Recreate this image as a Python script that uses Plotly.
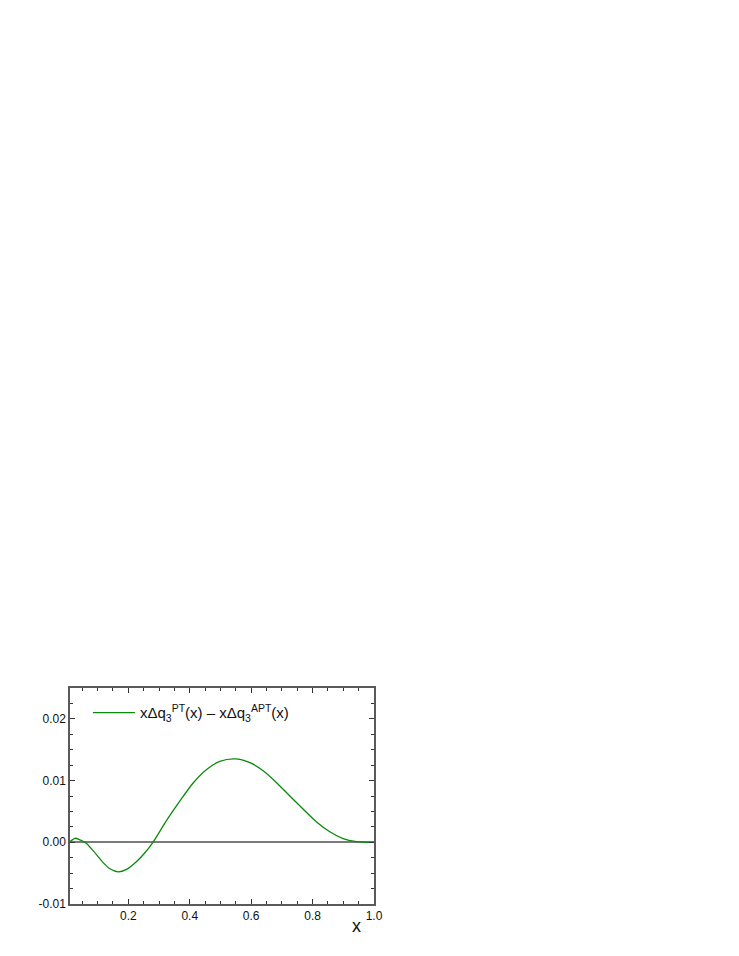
import plotly.graph_objects as go

# curve: x * (Δq3 PT - Δq3 APT)
x_vals = [0.01, 0.026, 0.0425, 0.062, 0.086, 0.118, 0.140, 0.167, 0.194, 0.227,
          0.254, 0.280, 0.324, 0.368, 0.411, 0.455, 0.498, 0.547, 0.596, 0.639,
          0.682, 0.726, 0.769, 0.813, 0.856, 0.899, 0.943, 0.98, 1.0]
y_vals = [0.0001, 0.00065, 0.0004, -0.0001, -0.0014, -0.0033, -0.0043, -0.0048, -0.0044, -0.0031,
          -0.0017, 0.0, 0.0035, 0.0067, 0.0096, 0.0118, 0.0131, 0.0135, 0.0129, 0.0116,
          0.0097, 0.0075, 0.0054, 0.0033, 0.0017, 0.0006, 0.0001, 0.0, 0.0]

y_tickvals = [-0.01, 0.0, 0.01, 0.02]
y_ticktext = ["-0.01", "0.00", "0.01", "0.02"]

curve_name = "xΔq<sub>3</sub><sup>PT</sup>(x) – xΔq<sub>3</sub><sup>APT</sup>(x)"

FRAME = "#5a5a5a"
FONT = "Liberation Sans, Arial"

fig = go.Figure()
fig.add_trace(go.Scatter(
    x=x_vals, y=y_vals, mode="lines", name=curve_name,
    line=dict(color="#0a8a0a", width=1.3, shape="spline", smoothing=0.7),
    showlegend=True,
))

axis_common = dict(
    showline=True, linecolor=FRAME, linewidth=1.5, mirror="ticks",
    ticks="inside", ticklen=5, tickwidth=1, tickcolor="#333",
    showgrid=False, tickfont=dict(family=FONT, size=12, color="#111"),
)

fig.update_xaxes(
    range=[0.01, 1.0], tick0=0, dtick=0.2, tickformat=".1f",
    minor=dict(ticks="inside", ticklen=3, dtick=0.05, tick0=0, tickcolor="#333"),
    zeroline=False, **axis_common,
)
fig.update_yaxes(
    range=[-0.01, 0.025], tickmode="array", tickvals=y_tickvals, ticktext=y_ticktext,
    minor=dict(ticks="inside", ticklen=3, dtick=0.0025, tick0=0, tickcolor="#333"),
    zeroline=True, zerolinecolor="#7a7a7a", zerolinewidth=2,
    **axis_common,
)

# axis title sits at the right end, below the tick labels
fig.add_annotation(
    text="x", xref="paper", yref="paper", x=0.943, y=-0.103,
    xanchor="center", yanchor="middle",
    showarrow=False, font=dict(family=FONT, size=18, color="#111"),
)

# page body adds an 8px margin, so the plot box is shifted back by that much
fig.update_layout(
    width=739, height=956,
    margin=dict(l=62, r=373, t=680, b=60),
    paper_bgcolor="white", plot_bgcolor="white",
    font=dict(family=FONT, color="#111"),
    legend=dict(
        x=0.059, y=0.885, xanchor="left", yanchor="middle",
        bgcolor="rgba(0,0,0,0)", borderwidth=0,
        font=dict(size=15, color="#111"), itemwidth=42,
    ),
)

fig.write_html("out.html")
